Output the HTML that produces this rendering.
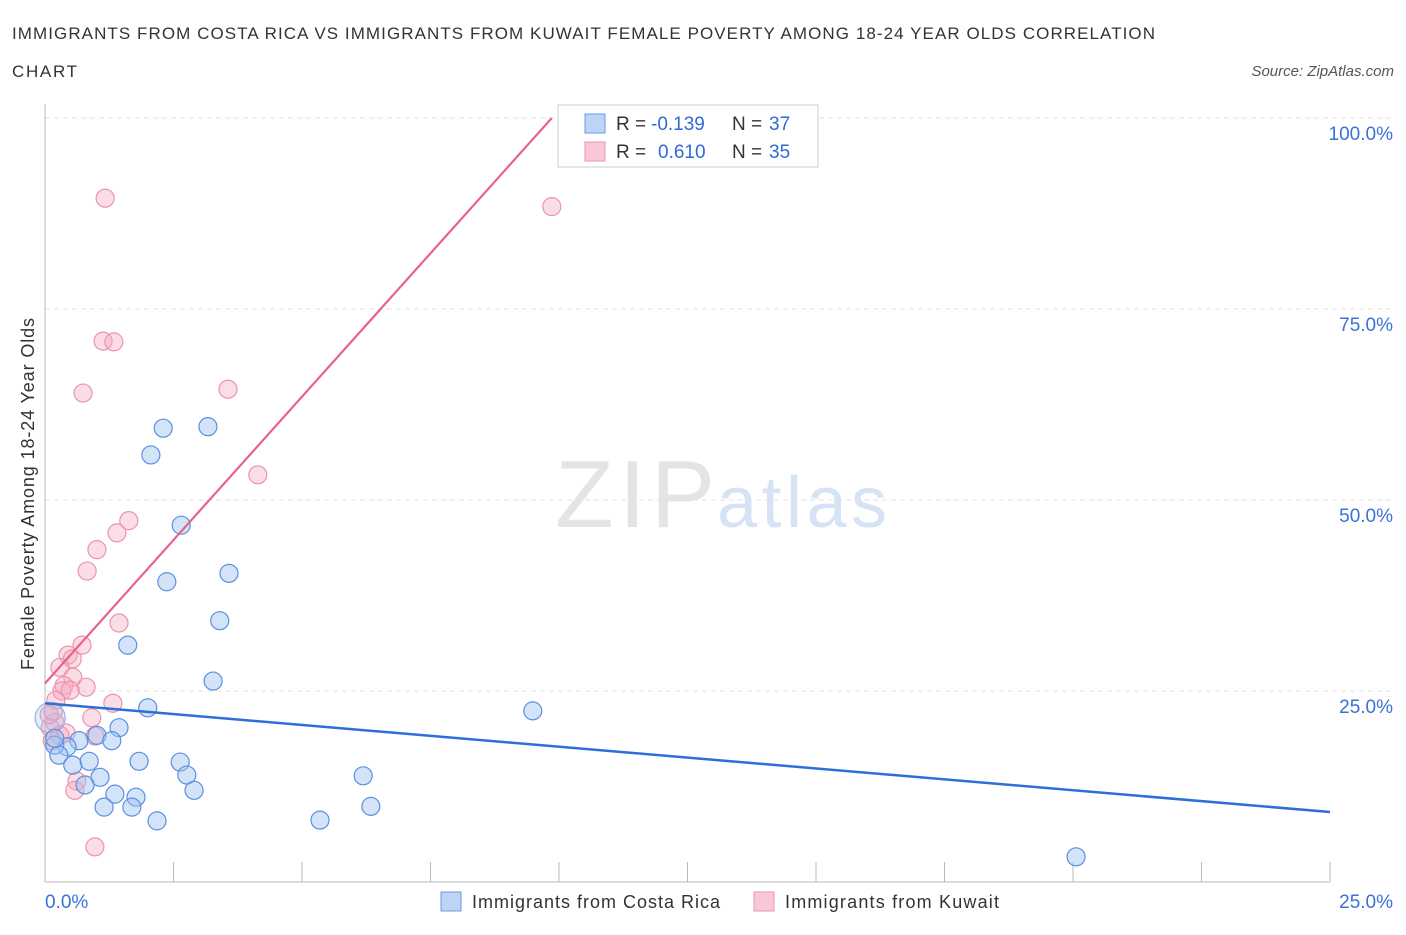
<!DOCTYPE html>
<html><head><meta charset="utf-8"><style>
body{margin:0;background:#fff;font-family:"Liberation Sans",sans-serif;}
svg text{font-family:"Liberation Sans",sans-serif;}
</style></head><body>
<svg id="chart" width="1406" height="930">
<text x="12" y="39" font-size="17" fill="#333" textLength="1143" lengthAdjust="spacing">IMMIGRANTS FROM COSTA RICA VS IMMIGRANTS FROM KUWAIT FEMALE POVERTY AMONG 18-24 YEAR OLDS CORRELATION</text>
<text x="12" y="77" font-size="17" fill="#333" textLength="65">CHART</text>
<text x="1394" y="76" font-size="15" fill="#555" font-style="italic" text-anchor="end">Source: ZipAtlas.com</text>
<text x="555" y="527" font-size="96" fill="#e4e4e4" font-family="Liberation Serif" textLength="160">ZIP</text>
<text x="717" y="527" font-size="72" fill="#d6e3f5" textLength="170">atlas</text>
<text transform="translate(34,494) rotate(-90)" font-size="18" fill="#333" text-anchor="middle" textLength="352">Female Poverty Among 18-24 Year Olds</text>
<g id="grid"></g><g id="marks"></g>
<g>
<rect x="558" y="105" width="260" height="62" fill="#fff" stroke="#ccc"/>
<rect x="585" y="114" width="20" height="19" fill="#bcd4f6" stroke="#6c9ae0"/>
<rect x="585" y="142" width="20" height="19" fill="#f9c8d6" stroke="#ec93ad"/>
<text x="616" y="130" font-size="19" fill="#333">R =</text>
<text x="651" y="130" font-size="19" fill="#2e6ad8">-0.139</text>
<text x="732" y="130" font-size="19" fill="#333">N =</text>
<text x="769" y="130" font-size="19" fill="#2e6ad8">37</text>
<text x="616" y="158" font-size="19" fill="#333">R =</text>
<text x="658" y="158" font-size="19" fill="#2e6ad8">0.610</text>
<text x="732" y="158" font-size="19" fill="#333">N =</text>
<text x="769" y="158" font-size="19" fill="#2e6ad8">35</text>
</g>
<g>
<rect x="441" y="892" width="20" height="19" fill="#bcd4f6" stroke="#6c9ae0"/>
<text x="472" y="908" font-size="18" fill="#333" textLength="248">Immigrants from Costa Rica</text>
<rect x="754" y="892" width="20" height="19" fill="#f9c8d6" stroke="#ec93ad"/>
<text x="785" y="908" font-size="18" fill="#333" textLength="214">Immigrants from Kuwait</text>
</g>
</svg>
<script>
const blueX=[2.30,3.17,2.06,2.65,2.37,3.58,3.40,1.61,3.27,2.00,9.49,1.44,1.01,1.30,0.66,0.43,0.19,0.27,0.54,0.86,1.83,2.63,2.76,1.07,6.19,0.78,2.90,1.36,1.77,1.15,1.69,6.34,2.18,5.35,20.06,0.10,0.19];
const blueY=[59.4,59.6,55.9,46.7,39.3,40.4,34.2,31.0,26.3,22.8,22.4,20.2,19.2,18.5,18.5,17.7,17.9,16.6,15.3,15.8,15.8,15.7,14.0,13.7,13.9,12.7,12.0,11.5,11.1,9.8,9.8,9.9,8.0,8.1,3.3,21.5,18.8];
const pinkX=[1.17,9.86,1.13,1.34,0.74,3.56,4.14,1.63,1.40,1.01,0.82,1.44,0.72,0.45,0.53,0.29,0.54,0.37,0.80,0.33,1.32,0.91,0.16,0.19,0.10,0.97,0.41,0.14,0.62,0.58,0.97,0.21,0.49,0.08,0.29];
const pinkY=[89.5,88.4,70.8,70.7,64.0,64.5,53.3,47.3,45.7,43.5,40.7,33.9,31.0,29.7,29.2,28.1,26.8,25.7,25.5,25.0,23.4,21.5,22.3,20.9,20.2,19.1,19.5,18.5,13.2,12.0,4.6,23.8,25.1,21.9,19.2];
const blueTrend=[23.4,9.16];
const pinkTrend=[26.0,100];const pinkTrendEndX=9.86;
const yTicks=[25,50,75,100];
const xTickLabels=["0.0%","25.0%"];
const NS="http://www.w3.org/2000/svg";
const X=v=>45+v/25*1285, Y=v=>882-v*7.64;
function mk(t,a,p){const e=document.createElementNS(NS,t);for(const k in a)e.setAttribute(k,a[k]);p.appendChild(e);return e;}
const grid=document.getElementById('grid'),marks=document.getElementById('marks');
yTicks.forEach(t=>{const l=mk('line',{x1:45,x2:1394,y1:Y(t),y2:Y(t),stroke:'#e2e2e2','stroke-dasharray':'5,4'},grid);


const tx=mk('text',{x:1393,y:Y(t)+22,'font-size':19,fill:'#3a72d8','text-anchor':'end'},grid);tx.textContent=t.toFixed(1)+'%';

});
mk('line',{x1:45,x2:45,y1:104,y2:882,stroke:'#bbb'},grid);
mk('line',{x1:45,x2:1330,y1:882,y2:882,stroke:'#bbb'},grid);
for(let i=0;i<=10;i++){mk('line',{x1:X(i*2.5),x2:X(i*2.5),y1:862,y2:882,stroke:'#bbb'},grid);}
let a=mk('text',{x:45,y:908,'font-size':19,fill:'#3a72d8'},grid);a.textContent=xTickLabels[0];


a=mk('text',{x:1393,y:908,'font-size':19,fill:'#3a72d8','text-anchor':'end'},grid);a.textContent=xTickLabels[1];


pinkX.forEach((v,i)=>{const c=mk('circle',{cx:X(v),cy:Y(pinkY[i]),r:9,fill:'rgba(246,170,192,0.4)',stroke:'#ec93ad','stroke-width':1.2},marks);

});
blueX.forEach((v,i)=>{const c=mk('circle',{cx:X(v),cy:Y(blueY[i]),r:i==35?15:9,fill:i==35?'rgba(160,195,240,0.3)':'rgba(160,195,240,0.45)',stroke:i==35?'#8fb3ea':'#5b8fe0','stroke-width':1.2},marks);

});
let l=mk('line',{x1:X(0),y1:Y(blueTrend[0]),x2:X(25),y2:Y(blueTrend[1]),stroke:'#2c6fd8','stroke-width':2.5},marks);


l=mk('line',{x1:X(0),y1:Y(pinkTrend[0]),x2:X(pinkTrendEndX),y2:Y(pinkTrend[1]),stroke:'#e8628a','stroke-width':2.2},marks);


</script>
</body></html>
